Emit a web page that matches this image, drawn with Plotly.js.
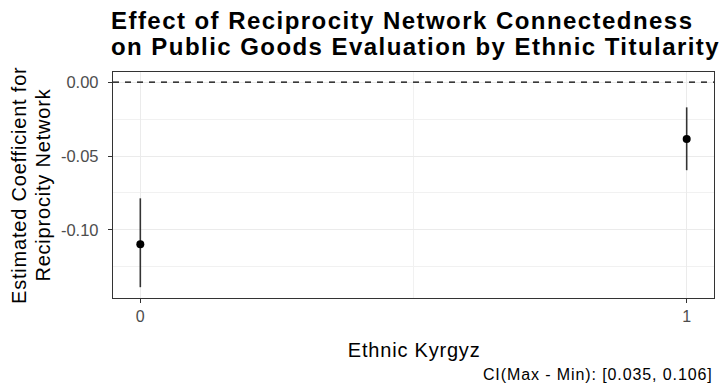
<!DOCTYPE html>
<html>
<head>
<meta charset="utf-8">
<script src="https://cdn.plot.ly/plotly-3.0.1.min.js"></script>
<style>
  html, body { margin: 0; padding: 0; background: #ffffff; }
  #chart { width: 723px; height: 390px; }
  /* slightly looser tracking for the text blocks */
  #chart g.annotation[data-index="0"] text,
  #chart g.annotation[data-index="1"] text { letter-spacing: 1.45px; }
  #chart g.annotation[data-index="2"] text,
  #chart g.annotation[data-index="3"] text,
  #chart g.annotation[data-index="4"] text { letter-spacing: 0.8px; }
  #chart g.annotation[data-index="5"] text { letter-spacing: 0.9px; }
</style>
</head>
<body>
<div id="chart"></div>
<script>
// Marginal effect of reciprocity network connectedness, by ethnic titularity
const groups = [0, 1];
const estimates = [-0.1097, -0.0385];
const ciLower = [-0.1387, -0.0596];
const ciUpper = [-0.0786, -0.0171];
const xTickVals = [0, 1];
const xTickText = ['0', '1'];
const yTickVals = [-0.10, -0.05, 0.00];
const yTickText = ['-0.10', '-0.05', '0.00'];
const titleLines = [
  'Effect of Reciprocity Network Connectedness',
  'on Public Goods Evaluation by Ethnic Titularity'
];
const xTitle = 'Ethnic Kyrgyz';
const yTitleLines = ['Estimated Coefficient for', 'Reciprocity Network'];
const captionText = 'CI(Max - Min): [0.035, 0.106]';

const FONT = 'Liberation Sans, Arial, sans-serif';
const M = { l: 113, r: 9, t: 72, b: 92 };
const W = 723, H = 390;
const plotW = W - M.l - M.r, plotH = H - M.t - M.b;
// pixel position -> paper coordinate helpers for the text layout
const px2x = p => (p - M.l) / plotW;
const px2y = p => (H - M.b - p) / plotH;

const trace = {
  type: 'scatter',
  mode: 'markers',
  x: groups,
  y: estimates,
  marker: { color: '#000000', size: 8 },
  error_y: {
    type: 'data',
    symmetric: false,
    array: estimates.map((e, i) => ciUpper[i] - e),
    arrayminus: estimates.map((e, i) => e - ciLower[i]),
    color: '#333333',
    thickness: 1.6,
    width: 0
  },
  hoverinfo: 'x+y',
  showlegend: false
};

const annotations = [
  {
    text: '<b>' + titleLines[0] + '</b>',
    xref: 'paper', x: px2x(109), xanchor: 'left', align: 'left',
    yref: 'paper', y: px2y(20), yanchor: 'middle',
    showarrow: false,
    font: { family: FONT, size: 24, color: '#000000' }
  },
  {
    text: '<b>' + titleLines[1] + '</b>',
    xref: 'paper', x: px2x(109), xanchor: 'left', align: 'left',
    yref: 'paper', y: px2y(47), yanchor: 'middle',
    showarrow: false,
    font: { family: FONT, size: 24, color: '#000000' }
  },
  {
    text: xTitle,
    xref: 'paper', x: 0.5, xanchor: 'center', align: 'center',
    yref: 'paper', y: px2y(349.5), yanchor: 'middle',
    showarrow: false,
    font: { family: FONT, size: 20, color: '#000000' }
  },
  {
    text: yTitleLines[0],
    xref: 'paper', x: px2x(19), xanchor: 'center',
    yref: 'paper', y: 0.5, yanchor: 'middle',
    textangle: -90,
    showarrow: false,
    font: { family: FONT, size: 20, color: '#000000' }
  },
  {
    text: yTitleLines[1],
    xref: 'paper', x: px2x(43), xanchor: 'center',
    yref: 'paper', y: 0.5, yanchor: 'middle',
    textangle: -90,
    showarrow: false,
    font: { family: FONT, size: 20, color: '#000000' }
  },
  {
    text: captionText,
    xref: 'paper', x: px2x(715), xanchor: 'right', align: 'right',
    yref: 'paper', y: px2y(374), yanchor: 'middle',
    showarrow: false,
    font: { family: FONT, size: 16, color: '#000000' }
  }
];

const layout = {
  width: W,
  height: H,
  paper_bgcolor: '#ffffff',
  plot_bgcolor: '#ffffff',
  margin: M,
  font: { family: FONT, color: '#000000' },
  xaxis: {
    range: [-0.05, 1.05],
    tickmode: 'array',
    tickvals: xTickVals,
    ticktext: xTickText,
    ticks: 'outside',
    ticklen: 4,
    tickwidth: 1,
    tickcolor: '#333333',
    tickfont: { family: FONT, size: 16, color: '#4d4d4d' },
    showgrid: true,
    gridcolor: '#ebebeb',
    gridwidth: 1,
    minor: { tickvals: [0.5], showgrid: true, gridcolor: '#f1f1f1', gridwidth: 1, ticks: '' },
    zeroline: false,
    showline: true,
    linecolor: '#333333',
    linewidth: 1.2,
    mirror: true
  },
  yaxis: {
    range: [-0.146, 0.0068],
    tickmode: 'array',
    tickvals: yTickVals,
    ticktext: yTickText,
    ticks: 'outside',
    ticklen: 4,
    tickwidth: 1,
    tickcolor: '#333333',
    ticklabelstandoff: 6,
    tickfont: { family: FONT, size: 16.5, color: '#4d4d4d' },
    showgrid: true,
    gridcolor: '#ebebeb',
    gridwidth: 1,
    minor: { tickvals: [-0.125, -0.075, -0.025], showgrid: true, gridcolor: '#f1f1f1', gridwidth: 1, ticks: '' },
    zeroline: false,
    showline: true,
    linecolor: '#333333',
    linewidth: 1.2,
    mirror: true
  },
  shapes: [{
    type: 'line', xref: 'paper', x0: 0, x1: 1, yref: 'y', y0: 0, y1: 0,
    line: { color: '#000000', width: 1.2, dash: '6px,6px' }
  }],
  annotations: annotations
};

Plotly.newPlot('chart', [trace], layout, { displayModeBar: false, staticPlot: true });
</script>
</body>
</html>
